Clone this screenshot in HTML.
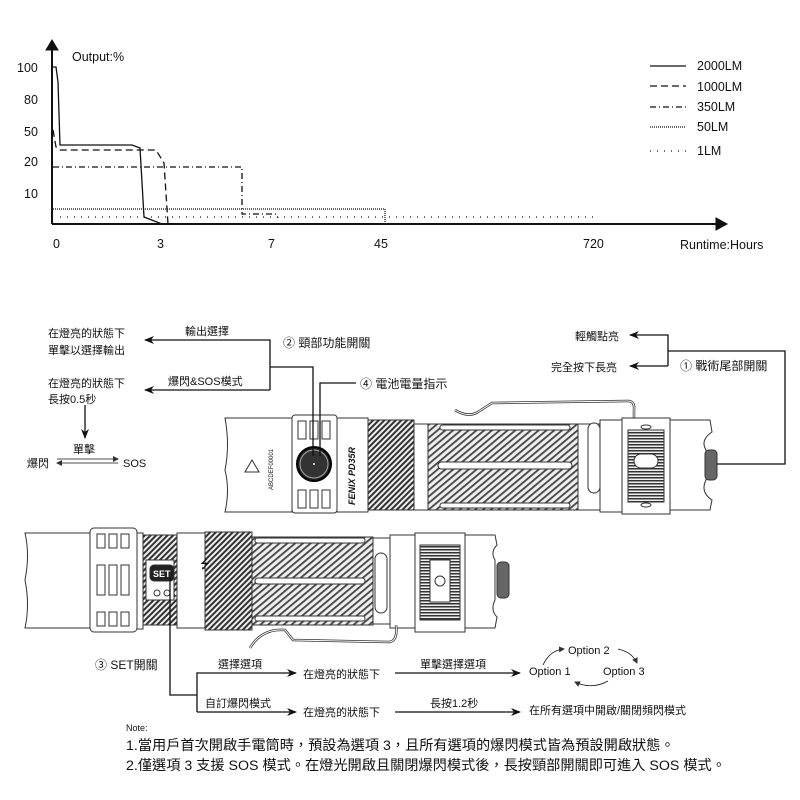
<!DOCTYPE html>
<html><head><meta charset="utf-8"><style>
html,body{margin:0;padding:0;background:#fff}
svg{display:block}
text{font-family:"Liberation Sans","Noto Sans CJK TC",sans-serif;fill:#111}
</style></head><body>
<svg width="800" height="800" viewBox="0 0 800 800" xmlns="http://www.w3.org/2000/svg">
<defs>
<pattern id="hd" width="4" height="4" patternUnits="userSpaceOnUse" patternTransform="rotate(45)"><rect width="4" height="4" fill="#eee"/><rect width="2" height="4" fill="#333"/></pattern>
<pattern id="hb" width="5" height="5" patternUnits="userSpaceOnUse" patternTransform="rotate(50)"><rect width="5" height="5" fill="#eee"/><rect width="1.8" height="5" fill="#444"/></pattern>
<pattern id="hr" width="4" height="3" patternUnits="userSpaceOnUse"><rect width="4" height="3" fill="#eee"/><rect width="4" height="1.5" fill="#333"/></pattern>
<marker id="ah" markerWidth="10" markerHeight="8" refX="9" refY="4" orient="auto" markerUnits="userSpaceOnUse"><path d="M0,0 L10,4 L0,8 L3,4 z" fill="#111"/></marker>
<marker id="as" markerWidth="6" markerHeight="6" refX="5" refY="3" orient="auto" markerUnits="userSpaceOnUse"><path d="M0,0 L6,3 L0,6 z" fill="#333"/></marker>
</defs>

<!-- chart -->
<g stroke="#111" fill="none">
<line x1="52" y1="224" x2="52" y2="48" stroke-width="2"/>
<path d="M46,50 L52,40 L58,50 z" fill="#111"/>
<line x1="52" y1="224" x2="718" y2="224" stroke-width="2"/>
<path d="M716,218 L727,224 L716,230 z" fill="#111"/>
<g stroke-width="1.3">
<path d="M53,67 L56,67 L58,82 L60,145 L132,145 L140,148 L144,217 L162,224"/>
<path d="M53,130 L56,147 L60,150 L156,150 L164,163 L168,224" stroke-dasharray="7,4"/>
<path d="M53,167 L242,167 L242,214 L276,214 L278,218" stroke-dasharray="6,3,1,3"/>
<path d="M53,209 L385,209 L385,224" stroke-dasharray="1,1"/>
<path d="M60,217 L595,217" stroke-dasharray="1,6"/>
<line x1="650" y1="66" x2="686" y2="66"/>
<line x1="650" y1="86" x2="686" y2="86" stroke-dasharray="7,4"/>
<line x1="650" y1="107" x2="686" y2="107" stroke-dasharray="6,3,1,3"/>
<line x1="650" y1="127" x2="686" y2="127" stroke-dasharray="1,1"/>
<line x1="650" y1="151" x2="686" y2="151" stroke-dasharray="1,6"/>
</g></g>
<g font-size="12.5">
<text x="72" y="61">Output:%</text>
<text x="17" y="72">100</text><text x="24" y="104">80</text><text x="24" y="136">50</text><text x="24" y="166">20</text><text x="24" y="198">10</text>
<text x="53" y="248">0</text><text x="157" y="248">3</text><text x="268" y="248">7</text><text x="374" y="248">45</text><text x="583" y="248">720</text>
<text x="680" y="249">Runtime:Hours</text>
<text x="697" y="70">2000LM</text><text x="697" y="91">1000LM</text><text x="697" y="111">350LM</text><text x="697" y="131">50LM</text><text x="697" y="155">1LM</text>
</g>

<!-- flashlight 1 -->
<g stroke="#333" stroke-width="1">
<path d="M455,410 Q468,418 478,412 L492,403 L628,401 Q635,401 634,410 L634,421" fill="none" stroke-width="2.5"/>
<path d="M455,410 Q468,418 478,412 L492,403 L628,401 Q635,401 634,410 L634,421" fill="none" stroke="#fff" stroke-width="1"/>
<path d="M225,418 L292,418 L292,512 L225,512 Q230,490 225,470 Q230,445 225,418z" fill="#fff"/>
<path d="M245,472 L252,460 L259,472z" fill="none"/>
<rect x="292" y="415" width="45" height="98" rx="3" fill="#fff"/>
<g fill="none"><rect x="298" y="421" width="8" height="18"/><rect x="310" y="421" width="8" height="18"/><rect x="322" y="421" width="8" height="18"/>
<rect x="298" y="490" width="8" height="18"/><rect x="310" y="490" width="8" height="18"/><rect x="322" y="490" width="8" height="18"/></g>
<circle cx="314" cy="464" r="17" fill="#222" stroke="#000" stroke-width="2"/><circle cx="314" cy="464" r="14" fill="#333" stroke="#aaa"/><circle cx="314" cy="464" r="1.5" fill="#fff"/>
<rect x="337" y="418" width="31" height="94" fill="#fff"/>
<rect x="368" y="420" width="46" height="90" fill="url(#hd)"/>
<rect x="414" y="424" width="14" height="86" fill="#fff"/>
<rect x="428" y="424" width="150" height="86" fill="url(#hb)"/>
<rect x="440" y="425" width="130" height="5" rx="2.5" fill="#fff"/>
<rect x="438" y="462" width="134" height="7" rx="3.5" fill="#fff"/>
<rect x="440" y="503" width="130" height="5" rx="2.5" fill="#fff"/>
<rect x="578" y="424" width="22" height="86" fill="#fff"/>
<rect x="588" y="423" width="12" height="70" rx="6" fill="#fff"/>
<rect x="600" y="420" width="22" height="92" fill="#fff"/>
<rect x="622" y="418" width="48" height="96" fill="#fff"/>
<rect x="628" y="430" width="36" height="72" fill="url(#hr)"/>
<rect x="634" y="454" width="24" height="14" rx="7" fill="#fff"/>
<ellipse cx="646" cy="427" rx="5" ry="2" fill="#fff"/><ellipse cx="646" cy="505" rx="5" ry="2" fill="#fff"/>
<path d="M670,420 L710,420 L712,432 Q700,440 706,450 L706,480 Q700,492 712,500 L710,510 L670,510z" fill="#fff"/>
<rect x="705" y="450" width="12" height="30" rx="4" fill="#666"/>
</g>
<text x="0" y="0" font-size="6" transform="translate(273,490) rotate(-90)">ABCDEF00001</text>
<text x="0" y="0" font-size="9" font-weight="bold" font-style="italic" transform="translate(355,505) rotate(-90)">FENIX PD35R</text>

<!-- flashlight 2 -->
<g stroke="#333" stroke-width="1">
<path d="M25,533 L90,533 L90,628 L25,628 Q30,605 25,580 Q30,555 25,533z" fill="#fff"/>
<rect x="90" y="528" width="47" height="104" rx="4" fill="#fff"/>
<g fill="none"><rect x="97" y="534" width="8" height="14"/><rect x="109" y="534" width="8" height="14"/><rect x="121" y="534" width="8" height="14"/>
<rect x="97" y="565" width="8" height="30"/><rect x="109" y="565" width="8" height="30"/><rect x="121" y="565" width="8" height="30"/>
<rect x="97" y="612" width="8" height="14"/><rect x="109" y="612" width="8" height="14"/><rect x="121" y="612" width="8" height="14"/></g>
<rect x="137" y="533" width="6" height="96" fill="#fff"/>
<rect x="143" y="535" width="34" height="90" fill="url(#hd)"/>
<rect x="146" y="560" width="28" height="40" fill="#fff"/>
<rect x="150" y="565" width="24" height="16" rx="4" fill="#222"/>
<circle cx="157" cy="593" r="3" fill="#fff"/><circle cx="167" cy="593" r="3" fill="#fff"/><circle cx="177" cy="593" r="3" fill="#fff"/>
<rect x="177" y="533" width="28" height="95" fill="#fff"/>
<rect x="205" y="532" width="47" height="98" fill="url(#hd)"/>
<rect x="252" y="537" width="121" height="88" fill="url(#hb)"/>
<rect x="255" y="538" width="110" height="5" rx="2.5" fill="#fff"/>
<rect x="255" y="578" width="110" height="6" rx="3" fill="#fff"/>
<rect x="255" y="616" width="110" height="5" rx="2.5" fill="#fff"/>
<rect x="373" y="538" width="17" height="86" fill="#fff"/>
<rect x="375" y="553" width="12" height="60" rx="6" fill="#fff"/>
<rect x="390" y="535" width="25" height="93" fill="#fff"/>
<rect x="415" y="533" width="50" height="99" fill="#fff"/>
<rect x="420" y="545" width="40" height="75" fill="url(#hr)"/>
<rect x="430" y="560" width="20" height="42" fill="#fff"/>
<circle cx="440" cy="581" r="5" fill="#fff"/>
<path d="M465,535 L495,535 L497,545 Q490,552 495,560 L495,600 Q490,610 497,617 L495,628 L465,628z" fill="#fff"/>
<rect x="497" y="562" width="12" height="36" rx="4" fill="#666"/>
<path d="M250,648 Q262,628 285,630 L293,640 L390,642 Q398,640 396,625" fill="none" stroke-width="2.5"/>
<path d="M250,648 Q262,628 285,630 L293,640 L390,642 Q398,640 396,625" fill="none" stroke="#fff" stroke-width="1"/>
</g>
<text x="153" y="577" font-size="9" font-weight="bold" style="fill:#fff">SET</text>
<text x="200" y="568" font-size="12">⭍</text>

<!-- connectors -->
<g stroke="#111" stroke-width="1.3" fill="none">
<path d="M313,456 L313,367 L270,367"/>
<path d="M270,390 L270,340 L145,340" marker-end="url(#ah)"/>
<path d="M270,390 L145,390" marker-end="url(#ah)"/>
<path d="M320,456 L320,383 L356,383"/>
<path d="M85,405 L85,438" marker-end="url(#ah)"/>
<path d="M57,459 L118,459" stroke-width="0.8" marker-end="url(#as)"/>
<path d="M118,463 L57,463" stroke-width="0.8" marker-end="url(#as)"/>
<path d="M717,464 L785,464 L785,351 L668,351"/>
<path d="M668,366 L668,335 L630,335" marker-end="url(#ah)"/>
<path d="M668,366 L630,366" marker-end="url(#ah)"/>
<path d="M170,577 L170,695 L197,695"/>
<path d="M197,712 L197,673 L296,673" marker-end="url(#ah)"/>
<path d="M197,712 L296,712" marker-end="url(#ah)"/>
<path d="M395,673 L520,673" marker-end="url(#ah)"/>
<path d="M395,712 L520,712" marker-end="url(#ah)"/>
<path d="M543,665 Q550,650 564,649" stroke-width="0.8" marker-end="url(#as)"/>
<path d="M618,649 Q632,652 637,663" stroke-width="0.8" marker-end="url(#as)"/>
<path d="M608,681 Q592,690 575,682" stroke-width="0.8" marker-end="url(#as)"/>
</g>

<g font-size="11">
<text x="48" y="337">在燈亮的狀態下</text><text x="48" y="354">單擊以選擇輸出</text>
<text x="48" y="387">在燈亮的狀態下</text><text x="48" y="403">長按0.5秒</text>
<text x="185" y="335">輸出選擇</text><text x="168" y="385">爆閃&amp;SOS模式</text>
<text x="73" y="453">單擊</text><text x="27" y="467">爆閃</text><text x="123" y="467">SOS</text>
<text x="283" y="347" font-size="12">② 頸部功能開關</text>
<text x="360" y="388" font-size="12">④ 電池電量指示</text>
<text x="575" y="340">輕觸點亮</text><text x="551" y="371">完全按下長亮</text>
<text x="680" y="370" font-size="12">① 戰術尾部開關</text>
<text x="95" y="669" font-size="12">③ SET開關</text>
<text x="218" y="668">選擇選項</text><text x="205" y="707">自訂爆閃模式</text>
<text x="303" y="678">在燈亮的狀態下</text><text x="303" y="716">在燈亮的狀態下</text>
<text x="420" y="668">單擊選擇選項</text><text x="430" y="707">長按1.2秒</text>
<text x="529" y="675">Option 1</text><text x="568" y="654">Option 2</text><text x="603" y="675">Option 3</text>
<text x="529" y="714">在所有選項中開啟/關閉頻閃模式</text>
<text x="126" y="731" font-size="9">Note:</text>
<text x="126" y="750" font-size="14.2">1.當用戶首次開啟手電筒時，預設為選項 3，且所有選項的爆閃模式皆為預設開啟狀態。</text>
<text x="126" y="770" font-size="14.2">2.僅選項 3 支援 SOS 模式。在燈光開啟且關閉爆閃模式後，長按頸部開關即可進入 SOS 模式。</text>
</g>
</svg>
</body></html>
